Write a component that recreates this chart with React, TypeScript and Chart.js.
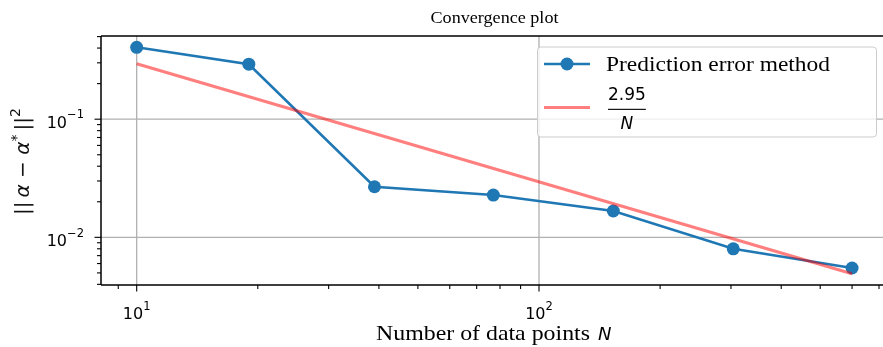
import React, { useEffect, useRef } from "react";
import { Chart, registerables } from "chart.js";

Chart.register(...registerables);

// ---- data ----
const dataPointsN = [10, 19, 39, 77, 153, 304, 600];
const predictionError = [0.406, 0.292, 0.0268, 0.0228, 0.0167, 0.008, 0.0055];
const fitCoefficient = 2.95;
const fitRangeN = [10, 600];

const xMajorTicks = [10, 100];
const xTickLabels = ["10^1", "10^2"];
const xMinorTicks = [9, 20, 30, 40, 50, 60, 70, 80, 90, 200, 300, 400, 500, 600, 700];
const yMajorTicks = [0.1, 0.01];
const yTickLabels = ["10^-1", "10^-2"];
const yMinorTicks = [
  0.004, 0.005, 0.006, 0.007, 0.008, 0.009,
  0.02, 0.03, 0.04, 0.05, 0.06, 0.07, 0.08, 0.09,
  0.2, 0.3, 0.4, 0.5,
];

const titleText = "Convergence plot";
const xLabelText = "Number of data points";
const xLabelMath = "N";
const seriesLabel = "Prediction error method";
const fitNumerator = "2.95";
const fitDenominator = "N";

const BLUE = "#1f77b4";
const RED = "rgba(255,0,0,0.5)";
const SANS = "'DejaVu Sans'";
const SERIF = "'Liberation Serif'";

function splitTick(s: string) {
  const [b, e] = s.split("^");
  return { base: b, exp: e.replace("-", "\u2212") };
}

// draw serif text at a given size, stretched horizontally to a target width
function drawStretched(
  ctx: CanvasRenderingContext2D, text: string, size: number, x: number, y: number,
  targetW: number, align: "left" | "center"
) {
  ctx.font = `${size}px ${SERIF}`;
  const w = ctx.measureText(text).width;
  const sx = targetW / w;
  ctx.save();
  ctx.textAlign = "left";
  const left = align === "center" ? x - targetW / 2 : x;
  ctx.translate(left, y);
  ctx.scale(sx, 1);
  ctx.fillText(text, 0, 0);
  ctx.restore();
}

const mplPlugin = {
  id: "mplAxes",
  beforeDatasetsDraw(chart: any) {
    const { ctx, chartArea: a, scales } = chart;
    const x = scales.x, y = scales.y;
    ctx.save();
    ctx.strokeStyle = "#b0b0b0";
    ctx.lineWidth = 1.3;
    xMajorTicks.forEach((v) => {
      const px = x.getPixelForValue(v);
      ctx.beginPath(); ctx.moveTo(px, a.top); ctx.lineTo(px, a.bottom); ctx.stroke();
    });
    yMajorTicks.forEach((v) => {
      const py = y.getPixelForValue(v);
      ctx.beginPath(); ctx.moveTo(a.left, py); ctx.lineTo(a.right, py); ctx.stroke();
    });
    ctx.restore();
  },
  afterDraw(chart: any) {
    const { ctx, chartArea: a, scales } = chart;
    const x = scales.x, y = scales.y;
    ctx.save();

    // spines
    ctx.strokeStyle = "#000";
    ctx.lineWidth = 1.5;
    ctx.beginPath();
    ctx.moveTo(a.left, a.top); ctx.lineTo(a.right, a.top);
    ctx.moveTo(a.left, a.top); ctx.lineTo(a.left, a.bottom);
    ctx.moveTo(a.left, a.bottom); ctx.lineTo(a.right, a.bottom);
    ctx.stroke();

    // ticks
    ctx.lineWidth = 1.1;
    const tick = (x1: number, y1: number, x2: number, y2: number) => {
      ctx.beginPath(); ctx.moveTo(x1, y1); ctx.lineTo(x2, y2); ctx.stroke();
    };
    xMajorTicks.forEach((v) => { const p = x.getPixelForValue(v); tick(p, a.bottom, p, a.bottom + 6.5); });
    xMinorTicks.forEach((v) => { const p = x.getPixelForValue(v); tick(p, a.bottom, p, a.bottom + 4); });
    yMajorTicks.forEach((v) => { const p = y.getPixelForValue(v); tick(a.left, p, a.left - 6.5, p); });
    yMinorTicks.forEach((v) => { const p = y.getPixelForValue(v); tick(a.left, p, a.left - 4, p); });

    // tick labels
    ctx.fillStyle = "#000";
    ctx.textBaseline = "alphabetic";
    ctx.textAlign = "left";
    const baseFont = `16px ${SANS}`;
    const expFont = `11.5px ${SANS}`;
    xTickLabels.forEach((lab, i) => {
      const { base, exp } = splitTick(lab);
      const p = x.getPixelForValue(xMajorTicks[i]);
      ctx.font = baseFont; const wb = ctx.measureText(base).width;
      ctx.font = expFont; const we = ctx.measureText(exp).width;
      const left = p - (wb + we) / 2;
      ctx.font = baseFont; ctx.fillText(base, left, a.bottom + 34);
      ctx.font = expFont; ctx.fillText(exp, left + wb, a.bottom + 25);
    });
    yTickLabels.forEach((lab, i) => {
      const { base, exp } = splitTick(lab);
      const p = y.getPixelForValue(yMajorTicks[i]);
      ctx.font = baseFont; const wb = ctx.measureText(base).width;
      ctx.font = expFont; const we = ctx.measureText(exp).width;
      const right = a.left - 17;
      const left = right - wb - we;
      ctx.font = baseFont; ctx.fillText(base, left, p + 8.5);
      ctx.font = expFont; ctx.fillText(exp, left + wb, p - 0.8);
    });

    // title
    const cx = (a.left + a.right) / 2;
    drawStretched(ctx, titleText, 17.5, cx, 22.5, 128, "center");

    // x label
    drawStretched(ctx, xLabelText, 21, 376, 340, 214, "left");
    ctx.font = `italic 18px ${SANS}`;
    ctx.textAlign = "left";
    ctx.fillText(xLabelMath, 598, 340);

    // y label (rotated)
    const pieces = [
      { t: "||", f: `20px ${SANS}`, dy: 0 },
      { t: "\u2009", f: `20px ${SANS}`, dy: 0 },
      { t: "\u03b1", f: `italic 20px ${SANS}`, dy: 0 },
      { t: " \u2212 ", f: `20px ${SANS}`, dy: 0 },
      { t: "\u03b1", f: `italic 20px ${SANS}`, dy: 0 },
      { t: "*", f: `14px ${SANS}`, dy: -8 },
      { t: "\u2009", f: `20px ${SANS}`, dy: 0 },
      { t: "||", f: `20px ${SANS}`, dy: 0 },
      { t: "2", f: `14px ${SANS}`, dy: -9 },
    ];
    let total = 0;
    const widths = pieces.map((p) => { ctx.font = p.f; const w = ctx.measureText(p.t).width; total += w; return w; });
    const sc = 107 / total;
    ctx.save();
    ctx.fillStyle = "#111";
    ctx.translate(29, 161.5);
    ctx.rotate(-Math.PI / 2);
    ctx.scale(sc, 1);
    let cur = -total / 2;
    pieces.forEach((p, i) => {
      ctx.font = p.f;
      ctx.fillText(p.t, cur, p.dy);
      cur += widths[i];
    });
    ctx.restore();

    // legend
    const lx0 = 537.5, ly0 = 47, lx1 = 876.5, ly1 = 137;
    const r = 3.5;
    ctx.beginPath();
    ctx.moveTo(lx0 + r, ly0);
    ctx.arcTo(lx1, ly0, lx1, ly1, r);
    ctx.arcTo(lx1, ly1, lx0, ly1, r);
    ctx.arcTo(lx0, ly1, lx0, ly0, r);
    ctx.arcTo(lx0, ly0, lx1, ly0, r);
    ctx.closePath();
    ctx.fillStyle = "rgba(255,255,255,0.8)";
    ctx.fill();
    ctx.strokeStyle = "#cccccc";
    ctx.lineWidth = 1;
    ctx.stroke();

    // entry 1
    ctx.strokeStyle = BLUE; ctx.lineWidth = 2.6;
    ctx.beginPath(); ctx.moveTo(544, 64); ctx.lineTo(590, 64); ctx.stroke();
    ctx.fillStyle = BLUE;
    ctx.beginPath(); ctx.arc(567, 64, 6.5, 0, Math.PI * 2); ctx.fill();
    ctx.fillStyle = "#000";
    drawStretched(ctx, seriesLabel, 21, 606, 71, 224, "left");

    // entry 2
    ctx.strokeStyle = RED; ctx.lineWidth = 3.2;
    ctx.beginPath(); ctx.moveTo(544, 107.5); ctx.lineTo(590, 107.5); ctx.stroke();
    ctx.fillStyle = "#000";
    ctx.font = `17px ${SANS}`;
    ctx.textAlign = "left";
    const nw = ctx.measureText(fitNumerator).width;
    const fx = 608, fcx = fx + nw / 2;
    ctx.fillText(fitNumerator, fx, 100);
    ctx.fillRect(fx, 108.8, nw, 1.1);
    ctx.font = `italic 17px ${SANS}`;
    ctx.textAlign = "center";
    ctx.fillText(fitDenominator, fcx, 129);

    ctx.restore();
  },
};

export default function App() {
  const ref = useRef<HTMLCanvasElement | null>(null);
  useEffect(() => {
    if (!ref.current) return;
    const chart = new Chart(ref.current, {
      type: "line",
      data: {
        datasets: [
          {
            label: seriesLabel,
            data: dataPointsN.map((n, i) => ({ x: n, y: predictionError[i] })),
            borderColor: BLUE,
            backgroundColor: BLUE,
            borderWidth: 2.6,
            pointRadius: 6.5,
            pointHoverRadius: 6.5,
            pointBorderWidth: 0,
            pointBackgroundColor: BLUE,
            tension: 0,
            order: 1,
          },
          {
            label: "fit",
            data: fitRangeN.map((n) => ({ x: n, y: fitCoefficient / n })),
            borderColor: RED,
            borderWidth: 3.2,
            pointRadius: 0,
            tension: 0,
            order: 0,
          },
        ],
      },
      options: {
        animation: false,
        responsive: false,
        events: [],
        layout: { padding: { left: 101, top: 36, right: 12, bottom: 62 } },
        plugins: { legend: { display: false }, tooltip: { enabled: false }, title: { display: false } },
        scales: {
          x: { type: "logarithmic", display: false, min: 8.153, max: 737, bounds: "data" },
          y: { type: "logarithmic", display: false, min: 0.00395, max: 0.506, bounds: "data" },
        },
      },
      plugins: [mplPlugin],
    } as any);
    return () => chart.destroy();
  }, []);
  return (
    <div style={{ position: "fixed", left: 0, top: 0, width: 883, height: 347, overflow: "hidden", background: "#fff" }}>
      <canvas ref={ref} width={900} height={347} style={{ display: "block" }} />
    </div>
  );
}
